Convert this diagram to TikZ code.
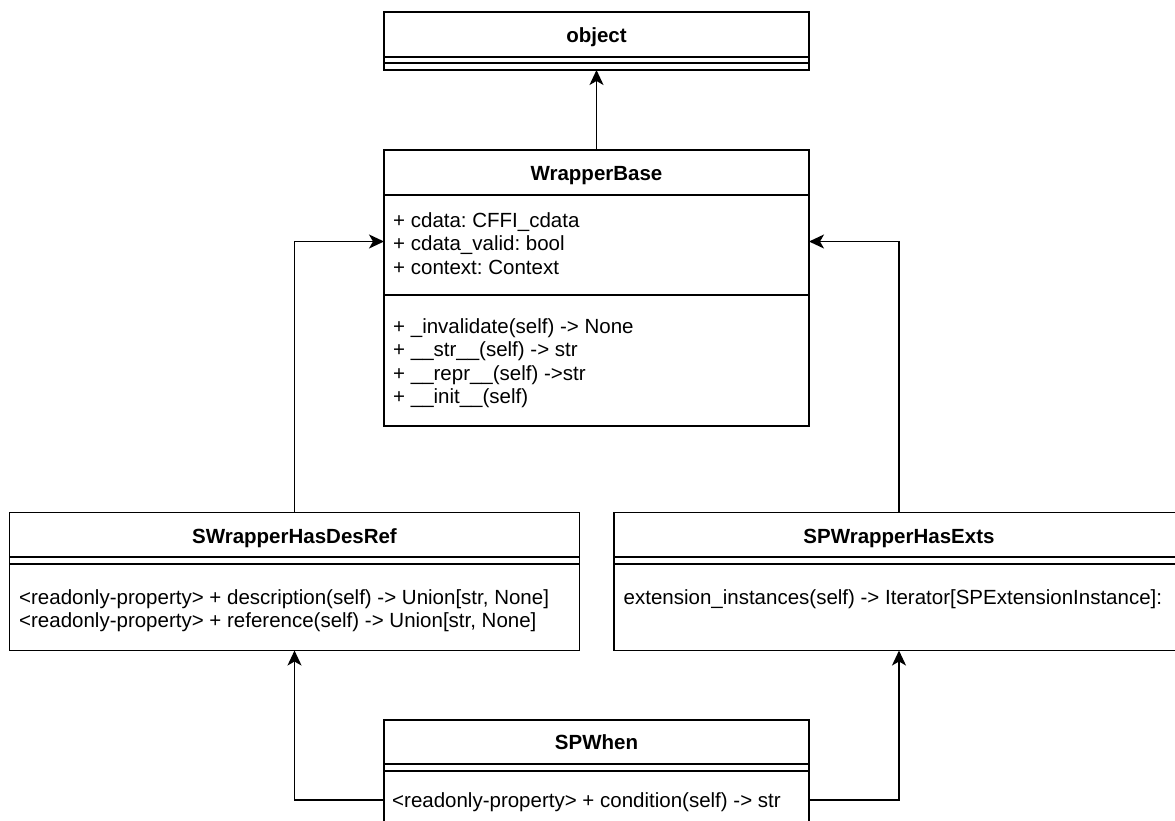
\documentclass[tikz,border=0pt]{standalone}
\usepackage{fontspec}
\setmainfont{Liberation Sans}
\usetikzlibrary{arrows.meta}
\frenchspacing

\tikzset{
  umlbox/.style={draw, line width=1.6pt, fill=white, inner sep=0pt, outer sep=0pt, anchor=north west},
  sepline/.style={line width=1.6pt},
  title/.style={font=\fontsize{20.5}{23.5}\selectfont\bfseries, inner sep=0pt, text height=14.7pt, text depth=0pt, anchor=center},
  member/.style={font=\fontsize{20.5}{23.5}\selectfont, inner sep=0pt, text height=14.7pt, text depth=0pt, anchor=west},
  inherit/.style={line width=1.6pt, -{Stealth[length=15pt, width=14pt, inset=4pt]}},
}

\begin{document}
\begin{tikzpicture}[x=1pt, y=-1pt]
\useasboundingbox (0,0) rectangle (1175,820);
\clip (0,0) rectangle (1175,820);
\fill[white] (0,0) rectangle (1175,820);

% class: object
\node[umlbox, minimum width=425pt, minimum height=58pt] (obj) at (384,12) {};
\draw[sepline] (384,57) -- (809,57);
\draw[sepline] (384,63) -- (809,63);
\node[title] (objT) at (596.5,35) {object};

% class: WrapperBase
\node[umlbox, minimum width=425pt, minimum height=276pt] (wb) at (384,150) {};
\draw[sepline] (384,195) -- (809,195);
\draw[sepline] (384,295) -- (809,295);
\node[title] (wbT) at (596.5,173) {WrapperBase};
\node[member] (wb1) at (393,220) {+ cdata: CFFI\_cdata};
\node[member] (wb2) at (393,243.5) {+ cdata\_valid: bool};
\node[member] (wb3) at (393,267) {+ context: Context};
\node[member] (wb4) at (393,326) {+ \_invalidate(self) -> None};
\node[member] (wb5) at (393,349.5) {+ \_\_str\_\_(self) -> str};
\node[member] (wb6) at (393,373) {+ \_\_repr\_\_(self) ->str};
\node[member] (wb7) at (393,396.5) {+ \_\_init\_\_(self)};

% class: SWrapperHasDesRef
\node[umlbox, minimum width=570pt, minimum height=138pt] (desref) at (9.5,512.5) {};
\draw[sepline] (9.5,557) -- (579.5,557);
\draw[sepline] (9.5,564) -- (579.5,564);
\node[title] (desrefT) at (294.5,536) {SWrapperHasDesRef};
\node[member] (desref1) at (19,597) {<readonly-property> + description(self) -> Union[str, None]};
\node[member] (desref2) at (19,620) {<readonly-property> + reference(self) -> Union[str, None]};

% class: SPWrapperHasExts
\node[umlbox, minimum width=570pt, minimum height=138pt] (exts) at (614,512.5) {};
\draw[sepline] (614,557) -- (1184,557);
\draw[sepline] (614,564) -- (1184,564);
\node[title] (extsT) at (899,536) {SPWrapperHasExts};
\node[member] (exts1) at (623.5,597) {extension\_instances(self) -> Iterator[SPExtensionInstance]:};

% class: SPWhen
\node[umlbox, minimum width=425pt, minimum height=130pt] (when) at (384,720) {};
\draw[sepline] (384,764) -- (809,764);
\draw[sepline] (384,771) -- (809,771);
\node[title] (whenT) at (596.5,742) {SPWhen};
\node[member] (when1) at (392,800) {<readonly-property> + condition(self) -> str};

% generalisation arrows
\draw[inherit] (wb.north) -- (obj.south);
\draw[inherit] (desref.north) |- ([yshift=46.5pt]wb.west);
\draw[inherit] (exts.north) |- ([yshift=46.5pt]wb.east);
\draw[inherit] ([yshift=-15pt]when.west) -| (desref.south);
\draw[inherit] ([yshift=-15pt]when.east) -| (exts.south);
\end{tikzpicture}
\end{document}
